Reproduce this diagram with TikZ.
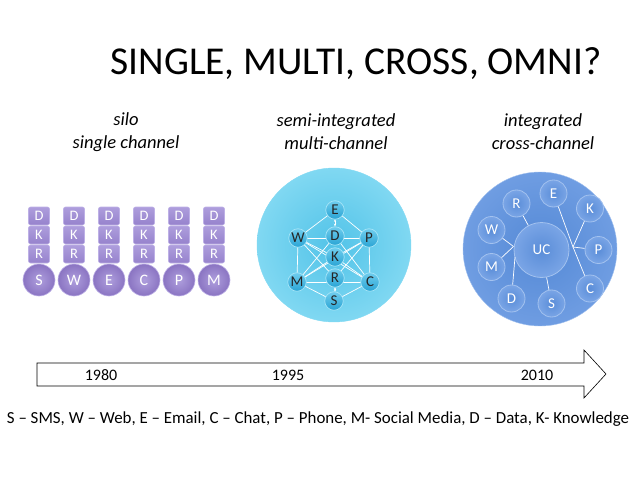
\documentclass[tikz,border=0pt]{standalone}
\usepackage{fontspec}
\setmainfont{Carlito}
\usetikzlibrary{arrows.meta}
\definecolor{silofill}{HTML}{9682CC}
\definecolor{siloedge}{HTML}{BDB0E6}
\definecolor{silodark}{HTML}{8A74C2}
\definecolor{silolight}{HTML}{AE9EDD}
\definecolor{cyanin}{HTML}{52C3E8}
\definecolor{cyanout}{HTML}{80D8F2}
\definecolor{cyannode}{HTML}{2AA4D4}
\definecolor{cyannodel}{HTML}{6FCDEE}
\definecolor{cyanrim}{HTML}{A4E4F7}
\definecolor{bluein}{HTML}{5489D6}
\definecolor{blueout}{HTML}{6F9DE2}
\definecolor{bluenode}{HTML}{5A8DD8}
\definecolor{bluenodel}{HTML}{7AA5E6}
\definecolor{bluerim}{HTML}{A3C2EF}
\begin{document}
\begin{tikzpicture}[x=1pt,y=-1pt,
  sq/.style={draw=siloedge, line width=0.6pt, top color=silolight, bottom color=silofill,
    minimum width=21pt, minimum height=18pt, rounded corners=2pt, text=white,
    font=\fontsize{14.5}{14.5}\selectfont, inner sep=0pt},
  ch/.style={circle, draw=siloedge, line width=0.6pt, inner color=silolight, outer color=silodark,
    minimum size=32pt, text=white, font=\fontsize{16}{16}\selectfont, inner sep=0pt},
  mnode/.style={circle, draw=cyanrim, line width=0.7pt, top color=cyannodel, bottom color=cyannode,
    minimum size=18.5pt, text=black!85, font=\fontsize{15}{15}\selectfont, inner sep=0pt},
  rnode/.style={circle, draw=bluerim, line width=0.8pt, inner color=bluenode, outer color=bluenodel,
    minimum size=27pt, text=white, font=\fontsize{15}{15}\selectfont, inner sep=0pt},
  wl/.style={draw=white, line width=0.7pt},
  lbl/.style={font=\fontsize{18.5}{23}\selectfont\itshape, align=center},
  yr/.style={font=\fontsize{16}{16}\selectfont}
]
\useasboundingbox (0,0) rectangle (638,479);

% title
\node (title) at (356,64) {\fontsize{39.5}{46}\selectfont SINGLE, MULTI, CROSS, OMNI?};

% subtitles
\node[lbl] (sub1) at (126,132) {silo\\single channel};
\node[lbl] (sub2) at (336,132) {semi-integrated\\multi-channel};
\node[lbl] (sub3) at (543,132) {integrated\\cross-channel};

% silos
\foreach \x/\c [count=\i] in {39/S,74/W,109/E,144/C,179/P,214/M}{
  \node[sq] (d\i) at (\x,216) {D};
  \node[sq] (k\i) at (\x,235) {K};
  \node[sq] (r\i) at (\x,254) {R};
  \node[ch] (c\i) at (\x,280) {\c};
}

% semi-integrated
\node[circle, minimum size=154pt, inner color=cyanin, outer color=cyanout, draw=cyanout] (mid) at (334,245) {};
\coordinate (mE) at (335,210);
\coordinate (mW) at (298,238);
\coordinate (mD) at (335,236);
\coordinate (mP) at (369,238);
\coordinate (mK) at (335,257);
\coordinate (mM) at (297,282);
\coordinate (mR) at (335,278);
\coordinate (mC) at (370,282);
\coordinate (mS) at (334,301);
\foreach \a/\b in {mE/mW,mE/mP,mW/mM,mP/mC,mM/mS,mC/mS,mW/mP,mM/mC,mW/mC,mM/mP,
  mW/mK,mW/mR,mM/mD,mM/mK,mP/mK,mP/mR,mC/mD,mC/mK}{
  \draw[wl] (\a) -- (\b);
}
\draw[white, line width=0.6pt, {Stealth[length=3pt]}-{Stealth[length=3pt]}] (mE) ++(0,9) -- ++(0,7.5);
\draw[white, line width=0.6pt, {Stealth[length=3pt]}-{Stealth[length=3pt]}] (mR) ++(0,9) -- ++(0,5);
\foreach \n in {E,W,D,P,K,M,R,C,S}{
  \node[mnode] (n\n) at (m\n) {\n};
}

% integrated
\node[circle, minimum size=154pt, inner color=bluein, outer color=blueout, draw=bluerim] (right) at (540,249) {};
\node[circle, minimum size=55pt, inner color=bluenode, outer color=bluenodel, draw=bluerim, line width=0.8pt,
  text=white, font=\fontsize{15}{15}\selectfont] (uc) at (541.5,250) {UC};
\node[rnode] (rR) at (516.5,203.5) {R};
\node[rnode] (rE) at (553.5,193.5) {E};
\node[rnode] (rK) at (590,208.5) {K};
\node[rnode] (rW) at (491.5,230) {W};
\node[rnode] (rP) at (598.5,250) {P};
\node[rnode] (rM) at (491.5,267) {M};
\node[rnode] (rC) at (590,288.5) {C};
\node[rnode] (rD) at (511.5,298.5) {D};
\node[rnode] (rS) at (551.5,303.5) {S};
\coordinate (hubL) at (513.5,246.5);
\coordinate (hubR) at (573,247);
\draw[wl] (rR) -- (uc);
\draw[wl] (rW) -- (hubL);
\draw[wl] (rM) -- (hubL);
\draw[wl] (rD) -- (515,257);
\draw[wl] (rE) -- (hubR);
\draw[wl] (rK) -- (hubR);
\draw[wl] (rP) -- (hubR);
\draw[wl] (rC) -- (hubR);
\draw[wl] (rS) -- (uc);

% timeline
\draw[line width=0.6pt] (37,363) -- (584,363) -- (584,350) -- (606,374) -- (584,398) -- (584,386) -- (37,386) -- cycle;
\node[yr] (y1) at (101,375) {1980};
\node[yr] (y2) at (288,375) {1995};
\node[yr] (y3) at (537,375) {2010};

% legend
\node[font=\fontsize{16.9}{17}\selectfont] (legend) at (318,419)
  {S -- SMS, W -- Web, E -- Email, C -- Chat, P -- Phone, M- Social Media, D -- Data, K- Knowledge};
\end{tikzpicture}
\end{document}
